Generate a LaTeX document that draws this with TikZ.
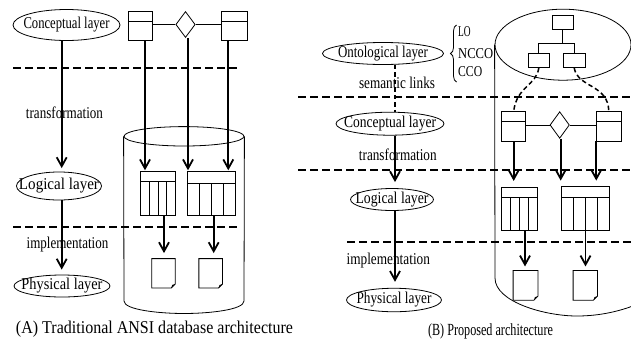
\documentclass[tikz,border=0pt]{standalone}
\usepackage{fontspec}
\usepackage{graphicx}
\setmainfont{Liberation Serif}
\usetikzlibrary{arrows.meta,shapes.geometric,decorations.pathreplacing,calc}
\newcommand{\tw}[2]{\resizebox{#1}{\height}{#2}}
\newcommand{\drawdoc}[1]{%
  \draw[thinline] (#1.north west) -- (#1.north east) -- ([yshift=4pt]#1.south east) -- ([xshift=-4pt]#1.south east) -- (#1.south west) -- cycle;
  \fill ([yshift=4pt]#1.south east) -- ([xshift=-3pt,yshift=3pt]#1.south east) -- ([xshift=-4pt]#1.south east) -- cycle;}
\begin{document}
\begin{tikzpicture}[x=1pt,y=-1pt,
  font=\fontsize{16.5}{18}\selectfont,
  thinline/.style={line width=0.8pt},
  lay/.style={draw, ellipse, inner sep=0pt, line width=0.8pt},
  ent/.style={draw, rectangle, inner sep=0pt, line width=0.8pt, minimum width=24pt, minimum height=29.5pt,
    path picture={\draw[line width=0.8pt] ([yshift=-10pt]path picture bounding box.north west) -- ([yshift=-10pt]path picture bounding box.north east);}},
  rel/.style={draw, diamond, inner sep=0pt, line width=0.8pt, minimum width=19.4pt, minimum height=26pt},
  tbl/.style={draw, rectangle, inner sep=0pt, line width=0.8pt, path picture={
    \foreach \f in {0.25,0.5,0.75}{\draw[line width=0.8pt] ($(path picture bounding box.south west)!\f!(path picture bounding box.south east)$) -- ($(path picture bounding box.north west)!\f!(path picture bounding box.north east)$);}
    \fill[white] (path picture bounding box.north west) rectangle ([yshift=-#1]path picture bounding box.north east);
    \draw[line width=0.8pt] ([yshift=-#1]path picture bounding box.north west) -- ([yshift=-#1]path picture bounding box.north east);}},
  tbl/.default=10pt,
  docbox/.style={rectangle, inner sep=0pt, minimum height=29pt},
  hbox/.style={draw, rectangle, inner sep=0pt, line width=0.8pt, minimum width=21pt, minimum height=14.3pt},
  arr/.style={line width=1.8pt, -{Straight Barb[length=9pt,width=10pt]}},
  sep/.style={line width=1.8pt, dash pattern=on 8pt off 4pt},
  slink/.style={line width=1.5pt, dash pattern=on 4.5pt off 3pt},
  lbl/.style={inner sep=0pt},
]
\useasboundingbox (0,0) rectangle (631,354);
\fill[white] (0,0) rectangle (631,354);

% ================= LEFT (A) =================
\node[lay, minimum width=107pt, minimum height=31pt, label={[lbl]center:{\tw{86pt}{Conceptual layer}}}] (lc) at (66.5,25) {};
\node[lay, minimum width=85pt, minimum height=28pt, label={[lbl]center:{\tw{80pt}{Logical layer}}}] (ll) at (59,186) {};
\node[lay, minimum width=96pt, minimum height=22pt, label={[lbl]center:{\tw{81pt}{Physical layer}}}] (lp) at (62,286) {};

\node[lbl] (ltr) at (64.5,113) {\tw{77pt}{transformation}};
\node[lbl] (lim) at (67.5,244.5) {\tw{81.7pt}{implementation}};
\node[lbl, font=\fontsize{18}{20}\selectfont] (lcap) at (154.5,329.5) {\tw{277pt}{(A) Traditional ANSI database architecture}};

\node[ent, minimum width=24pt] (le1) at (140,26) {};
\node[rel] (ldm) at (185.5,24.5) {};
\node[ent, minimum width=26pt] (le2) at (234.3,26) {};
\draw[thinline] (le1.east |- ldm.west) -- (ldm.west);
\draw[thinline] (ldm.east) -- (le2.west |- ldm.east);

\node[draw, ellipse, thinline, inner sep=0pt, minimum width=120pt, minimum height=19.4pt] (lcy) at (184,136.3) {};
\draw[thinline] (lcy.west) -- (124,301) .. controls (124,310) and (160,313.5) .. (184,313.5) .. controls (208,313.5) and (244,310) .. (244,301) -- (lcy.east);

\node[tbl=9.8pt, minimum width=35pt, minimum height=43.3pt] (lt1) at (158,193.3) {};
\node[tbl=11.6pt, minimum width=48pt, minimum height=43.3pt] (lt2) at (211.7,193.3) {};

\node[docbox, minimum width=23pt] (ldoc1) at (163.5,273.3) {};
\node[docbox, minimum width=23.3pt] (ldoc2) at (210.7,273.3) {};
\drawdoc{ldoc1}
\drawdoc{ldoc2}

\coordinate (a1) at ([xshift=5pt]le1.south);
\coordinate (a2) at ([xshift=2.5pt]ldm.south);
\coordinate (a3) at ([xshift=-6pt]le2.south);
\draw[arr, shorten >=1pt] (a1) -- (a1 |- lt1.north);
\draw[arr, shorten >=1pt] (a2) -- (a2 |- lt2.north);
\draw[arr, shorten >=1pt] (a3) -- (a3 |- lt2.north);
\coordinate (a4) at ([xshift=6pt]lt1.south);
\coordinate (a5) at ([xshift=2pt]lt2.south);
\draw[arr, shorten >=5.5pt] (a4) -- (a4 |- ldoc1.north);
\draw[arr, shorten >=5.5pt] (a5) -- (a5 |- ldoc2.north);
\coordinate (a6) at ([xshift=-4.8pt]lc.south);
\draw[arr, shorten >=3.5pt] (a6) -- (a6 |- ll.north);
\coordinate (a7) at (a6 |- ll.south);
\draw[arr, shorten >=5pt] (a7) -- (a7 |- lp.north);

\coordinate (ls1a) at (13,67.7);
\coordinate (ls1b) at (240,67.7);
\coordinate (ls2a) at (13,227);
\coordinate (ls2b) at (240,227);
\draw[sep] (ls1a) -- (ls1b);
\draw[sep] (ls2a) -- (ls2b);

% ================= RIGHT (B) =================
\node[lay, minimum width=121pt, minimum height=22pt, label={[lbl]center:{\tw{90pt}{Ontological layer}}}] (ro) at (383,53.5) {};
\node[lay, minimum width=108pt, minimum height=23pt, label={[lbl]center:{\tw{92pt}{Conceptual layer}}}] (rc) at (390,123.7) {};
\node[lay, minimum width=83pt, minimum height=22pt, label={[lbl]center:{\tw{73pt}{Logical layer}}}] (rl) at (392,199.5) {};
\node[lay, minimum width=95pt, minimum height=23.5pt, label={[lbl]center:{\tw{75pt}{Physical layer}}}] (rp) at (394,300) {};

\draw[thinline, decorate, decoration={brace, amplitude=6pt}] (456.5,82) -- (456.5,25);
\node[lbl, anchor=west, font=\fontsize{15}{17}\selectfont] (tlo) at (458,31.7) {\tw{12.5pt}{LO}};
\node[lbl, anchor=west, font=\fontsize{15}{17}\selectfont] (tncco) at (458,53.3) {\tw{35pt}{NCCO}};
\node[lbl, anchor=west, font=\fontsize{15}{17}\selectfont] (tcco) at (458,71.3) {\tw{24pt}{CCO}};

\node[lbl] (rsl) at (397,83.3) {\tw{76pt}{semantic links}};
\node[lbl] (rtr) at (397.8,155) {\tw{77.7pt}{transformation}};
\node[lbl] (rim) at (388.3,261) {\tw{83.3pt}{implementation}};
\node[lbl, font=\fontsize{17}{19}\selectfont] (rcap) at (490.5,331) {\tw{125pt}{(B) Proposed architecture}};

\coordinate (s1) at ([xshift=12pt]ro.south);
\draw[slink] (s1) -- (s1 |- rc.north);
\coordinate (r6) at (s1 |- rc.south);
\draw[arr, shorten >=6pt] (r6) -- (r6 |- rl.north);
\coordinate (r7) at (s1 |- rl.south);
\draw[arr, shorten >=6pt] (r7) -- (r7 |- rp.north);

\node[draw, ellipse, thinline, inner sep=0pt, minimum width=136pt, minimum height=71pt] (rcy) at (563,44.7) {};
\draw[thinline] (rcy.west) -- (495,278) .. controls (495,302) and (545,316) .. (577,316) .. controls (600,316) and (622,311) .. (640,303);

\node[hbox] (rh0) at (562.8,22.2) {};
\node[hbox] (rh1) at (538.8,60.5) {};
\node[hbox, minimum width=21.7pt] (rh2) at (574.2,60.5) {};
\coordinate (hj) at (562.8,43.3);
\draw[thinline] (rh0.south) -- (hj);
\draw[thinline] (rh1.north) |- (hj) -| (rh2.north);

\node[ent] (re1) at (513.7,126.2) {};
\node[rel, minimum height=26.6pt] (rdm) at (559.7,125) {};
\node[ent, minimum width=24.3pt] (re2) at (608.8,126.2) {};
\draw[thinline] (re1.east |- rdm.west) -- (rdm.west);
\draw[thinline] (rdm.east) -- (re2.west |- rdm.east);

\draw[slink] (rh1.south) .. controls (536,86) and (517,86) .. (re1.north);
\draw[slink] (rh2.south) .. controls (578,88) and (608,84) .. (re2.north);

\node[tbl=10pt, minimum width=35.6pt, minimum height=42.7pt] (rt1) at (519.5,208.7) {};
\node[tbl=11.7pt, minimum width=47.6pt, minimum height=44pt] (rt2) at (585.5,208) {};

\coordinate (b1) at (re1.south);
\coordinate (b2) at ([xshift=1pt]rdm.south);
\coordinate (b3) at (re2.south west);
\draw[arr, shorten >=6pt] (b1) -- (b1 |- rt1.north);
\draw[arr, shorten >=5pt] (b2) -- (b2 |- rt2.north);
\draw[arr, shorten >=5pt] (b3) -- (b3 |- rt2.north);

\node[docbox, minimum width=24.4pt, minimum height=29.3pt] (rdoc1) at (525.5,285.3) {};
\node[docbox, minimum width=24pt, minimum height=29.3pt] (rdoc2) at (585.3,285.3) {};
\drawdoc{rdoc1}
\drawdoc{rdoc2}

\coordinate (b4) at ([xshift=5.5pt]rt1.south);
\coordinate (b5) at (rt2.south);
\draw[arr, shorten >=4pt] (b4) -- (b4 |- rdoc1.north);
\draw[arr, shorten >=4pt] (b5) -- (b5 |- rdoc2.north);

\coordinate (rs1a) at (298,97.3);
\coordinate (rs1b) at (631,97.3);
\coordinate (rs2a) at (298,170);
\coordinate (rs2b) at (631,170);
\coordinate (rs3a) at (347,242);
\coordinate (rs3b) at (631,242);
\draw[sep] (rs1a) -- (rs1b);
\draw[sep] (rs2a) -- (rs2b);
\draw[sep] (rs3a) -- (rs3b);
\end{tikzpicture}
\end{document}
